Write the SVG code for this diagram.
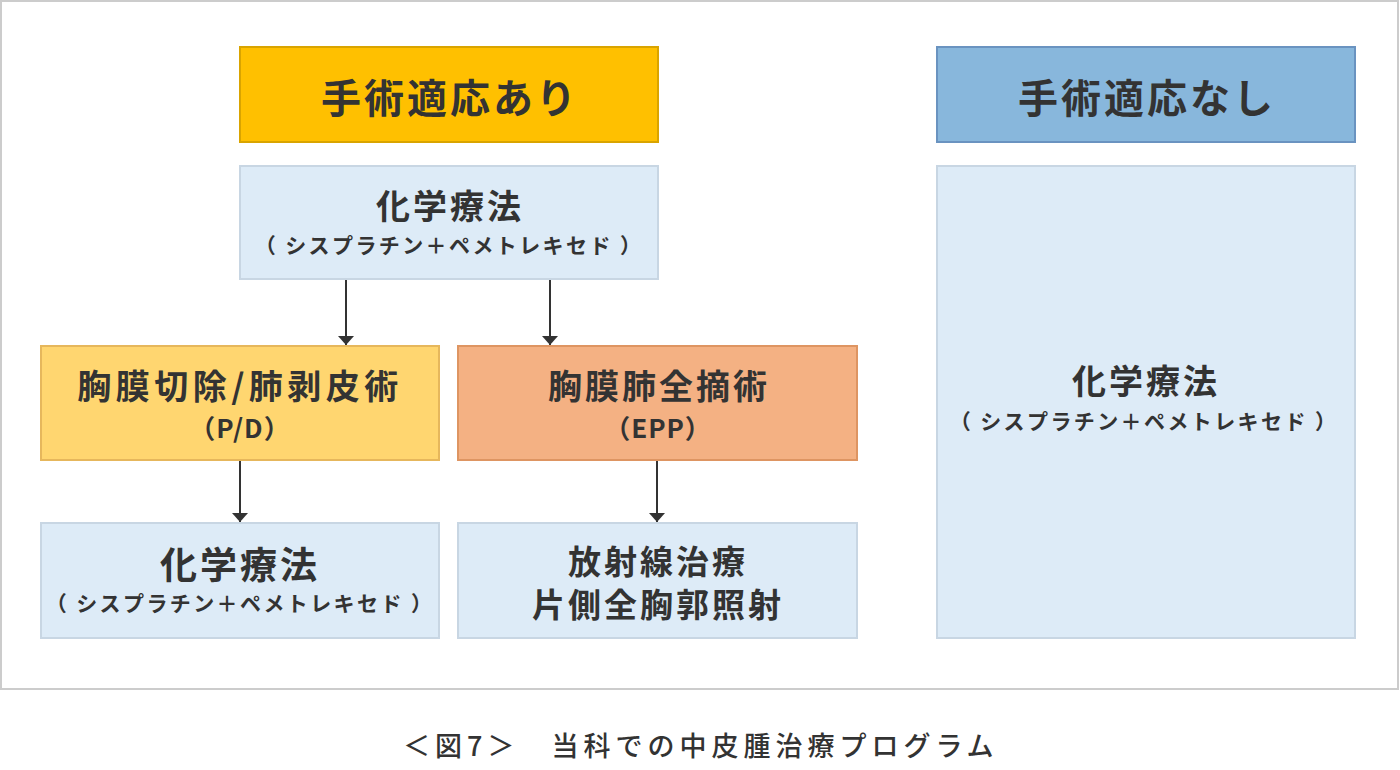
<svg xmlns="http://www.w3.org/2000/svg" width="1400" height="770" viewBox="0 0 1400 770">
<defs>
<marker id="ah" markerWidth="10" markerHeight="16" refX="9" refY="8" orient="auto" markerUnits="userSpaceOnUse" viewBox="0 0 10 16">
<path d="M0,0 L9,8 L0,16 Z" fill="#333333"/>
</marker>
<style>
text{font-family:"Noto Sans CJK JP","Noto Sans CJK SC",sans-serif;fill:#333333;text-anchor:middle;font-weight:700}
.h{font-size:40px;letter-spacing:3px}
.m{font-size:34px;letter-spacing:3px}
.s{font-size:21px;letter-spacing:2.4px}
.p{font-size:26px;letter-spacing:1px}
.cap{font-size:27px;letter-spacing:5px;font-weight:500;text-anchor:start}
.lb{fill:#DDEBF7;stroke:#C8D6E3;stroke-width:2}
.conn line{stroke:#333333;stroke-width:2}
</style>
</defs>
<rect x="1" y="1" width="1397" height="688" fill="#FFFFFF" stroke="#CCCCCC" stroke-width="2"/>
<g id="node-surgery-yes">
<rect x="240" y="47" width="418" height="95" fill="#FFC000" stroke="#D9A400" stroke-width="2"/>
<text class="h" x="450" y="113">手術適応あり</text>
</g>
<g id="node-chemo-top">
<rect class="lb" x="240" y="166" width="418" height="113"/>
<text class="m" x="450" y="219">化学療法</text>
<text class="s" x="449" y="253">（ シスプラチン＋ペメトレキセド ）</text>
</g>
<g id="node-pd">
<rect x="41" y="346" width="398" height="114" fill="#FFD670" stroke="#E6B75C" stroke-width="2"/>
<text class="m" x="240" y="399" style="letter-spacing:4.5px">胸膜切除/肺剥皮術</text>
<text class="p" x="240" y="438">（P/D）</text>
</g>
<g id="node-epp">
<rect x="458" y="346" width="399" height="114" fill="#F4B183" stroke="#DE9562" stroke-width="2"/>
<text class="m" x="659" y="399">胸膜肺全摘術</text>
<text class="p" x="658" y="438">（EPP）</text>
</g>
<g id="node-chemo-pd">
<rect class="lb" x="41" y="523" width="398" height="115"/>
<text class="m" x="240" y="579" style="font-size:37px">化学療法</text>
<text class="s" x="240" y="611">（ シスプラチン＋ペメトレキセド ）</text>
</g>
<g id="node-radiation">
<rect class="lb" x="458" y="523" width="399" height="115"/>
<text class="m" x="658" y="574" style="font-size:33px">放射線治療</text>
<text class="m" x="658" y="617" style="font-size:33px">片側全胸郭照射</text>
</g>
<g id="node-surgery-no">
<rect x="937" y="47" width="418" height="95" fill="#88B7DC" stroke="#6A93C0" stroke-width="2"/>
<text class="h" x="1147" y="113">手術適応なし</text>
</g>
<g id="node-chemo-right">
<rect class="lb" x="937" y="166" width="418" height="472"/>
<text class="m" x="1146" y="394">化学療法</text>
<text class="s" x="1144" y="429">（ シスプラチン＋ペメトレキセド ）</text>
</g>
<g class="conn" id="connectors">
<line x1="346" y1="280" x2="346" y2="345" marker-end="url(#ah)"/>
<line x1="550" y1="280" x2="550" y2="345" marker-end="url(#ah)"/>
<line x1="240" y1="461" x2="240" y2="522" marker-end="url(#ah)"/>
<line x1="657" y1="461" x2="657" y2="522" marker-end="url(#ah)"/>
</g>
<text class="cap" x="403" y="756">＜図7＞　当科での中皮腫治療プログラム</text>
</svg>
